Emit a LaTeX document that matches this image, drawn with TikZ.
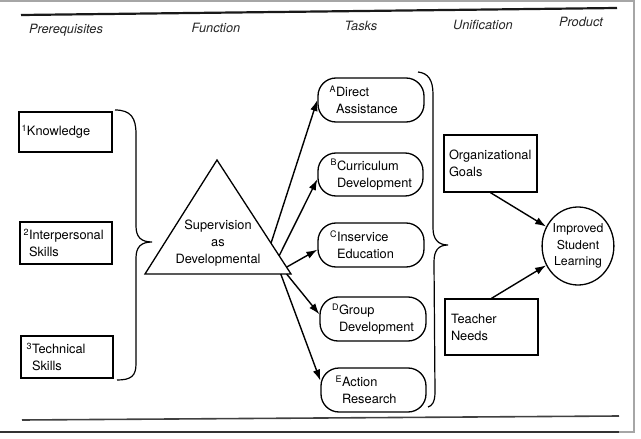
\documentclass[tikz,border=0pt]{standalone}
\usepackage{fontspec}
\setmainfont{TeX Gyre Heros}
\usetikzlibrary{arrows.meta,shapes.geometric,calc}
\begin{document}
\begin{tikzpicture}[x=1pt,y=-1pt,
  every node/.style={font=\fontsize{12.8}{17}\selectfont},
  hdr/.style={font=\fontsize{12.8}{15}\selectfont\itshape, text=black!85},
  sqbox/.style={draw, line width=1.3pt, rectangle, align=left, inner ysep=0pt},
  taskbox/.style={draw, line width=1.3pt, rectangle, rounded corners=18pt, align=left, inner ysep=0pt},
  conn/.style={line width=1.4pt, -{Latex[length=11pt,width=7.5pt]}},
  bracepath/.style={line width=1.2pt},
]
\useasboundingbox (0,0) rectangle (641,439);
% outer frame
\draw[gray!70, line width=1.2pt] (0,1) -- (634,1) -- (634,432) -- (619,432);
\draw[black!80, line width=2pt] (0,432) -- (619,432);
% rules
\draw[black!90, line width=2.2pt] (21,15) -- (617,8);
\draw[black!75, line width=1.6pt] (22,420) -- (619,416);
% headers
\node[hdr] (h1) at (66,30) {Prerequisites};
\node[hdr] (h2) at (216,28) {Function};
\node[hdr] (h3) at (361,26) {Tasks};
\node[hdr] (h4) at (483,25) {Unification};
\node[hdr] (h5) at (581,22) {Product};
% prerequisites
\node[sqbox, minimum height=40pt, inner xsep=8pt, text width=77pt] (know) at (65.5,132) {\llap{\textsuperscript{1}}Knowledge};
\node[sqbox, minimum height=42pt, inner xsep=9pt, text width=74pt] (inter) at (66,243) {\llap{\textsuperscript{2}}Interpersonal\\Skills};
\node[sqbox, minimum height=42pt, inner xsep=11pt, text width=70pt] (tech) at (67,357) {\llap{\textsuperscript{3}}Technical\\Skills};
% left brace
\draw[bracepath] (115,110) .. controls (131,110) and (136,118) .. (136,134) -- (136,226)
  .. controls (136,237) and (141,242) .. (152,242)
  .. controls (141,242) and (136,247) .. (136,258) -- (136,364)
  .. controls (136,376) and (131,380) .. (117,380);
% triangle
\coordinate (tA) at (217,160);
\coordinate (tL) at (145,274);
\coordinate (tR) at (291,274);
\draw[line width=1.3pt, line join=miter] (tA) -- (tL) -- (tR) -- cycle;
\node[align=center] (sup) at (218,243) {Supervision\\as\\Developmental};
% tasks
\node[taskbox, minimum height=44pt, inner xsep=18pt, text width=70pt] (A) at (371,100) {\llap{\textsuperscript{A}}Direct\\Assistance};
\node[taskbox, minimum height=43pt, inner xsep=19pt, text width=67pt] (B) at (370.5,174.5) {\llap{\textsuperscript{B}}Curriculum\\Development};
\node[taskbox, minimum height=44pt, inner xsep=19pt, text width=68pt] (C) at (371,245) {\llap{\textsuperscript{C}}Inservice\\Education};
\node[taskbox, minimum height=44pt, inner xsep=19pt, text width=68pt] (D) at (373,319) {\llap{\textsuperscript{D}}Group\\Development};
\node[taskbox, minimum height=44pt, inner xsep=21pt, text width=63pt] (E) at (373.5,390) {\llap{\textsuperscript{E}}Action\\Research};
% arrows from triangle
\draw[conn] ($(tA)!0.73!(tR)$) -- (A.west);
\draw[conn] ($(tA)!0.84!(tR)$) -- (B.185);
\draw[conn] ($(tA)!0.94!(tR)$) -- (C.185);
\draw[conn] ($(tL)!0.97!(tR)$) -- (D.175);
\draw[conn] ($(tL)!0.93!(tR)$) -- (E.170);
% right brace
\draw[bracepath] (418,72) .. controls (428,73) and (433,80) .. (433,94) -- (433,228)
  .. controls (433,239) and (438,245) .. (448,245)
  .. controls (438,245) and (434,251) .. (434,262) -- (435,392)
  .. controls (435,402) and (432,406) .. (428,407);
% unification
\node[sqbox, minimum height=57pt, inner xsep=5pt, text width=83pt] (org) at (490.5,163.5) {Organizational\\Goals};
\node[sqbox, minimum height=56pt, inner xsep=6pt, text width=81pt] (teach) at (491.5,327) {Teacher\\Needs};
% product
\node[draw, line width=1.3pt, ellipse, minimum width=67pt, minimum height=78pt, inner sep=0pt, align=center,
  font=\fontsize{12.3}{16.5}\selectfont] (circ) at (578,246) {Improved\\Student\\Learning};
\draw[conn] (org.south) -- (circ);
\draw[conn] (teach.north) -- (circ);
\end{tikzpicture}
\end{document}
